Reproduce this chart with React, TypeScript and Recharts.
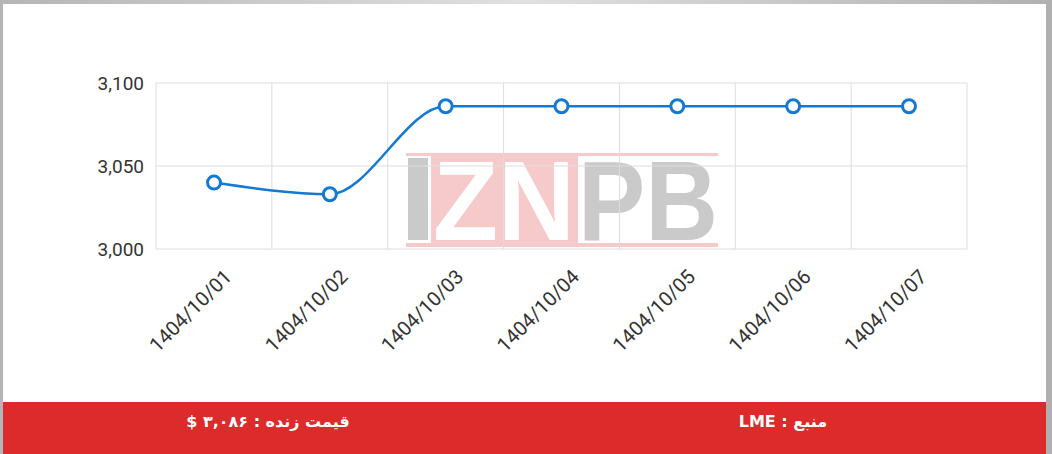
import React from "react";
import {
  LineChart,
  Line,
  XAxis,
  YAxis,
  CartesianGrid,
} from "recharts";

const dates = [
  "1404/10/01",
  "1404/10/02",
  "1404/10/03",
  "1404/10/04",
  "1404/10/05",
  "1404/10/06",
  "1404/10/07",
];
const prices = [3040, 3033, 3086, 3086, 3086, 3086, 3086];
const yTicks = [3000, 3050, 3100];

const livePriceLabel = "قیمت زنده : ۳,۰۸۶ $";
const sourceLabel = "منبع : LME";

const data = dates.map((date, i) => ({ date, price: prices[i] }));

const BLUE = "#1479d3";
const RED = "#dd2a2a";

const XTick = (props: any) => {
  const { x, y, payload } = props;
  return (
    <g transform={`translate(${x + 19},${y + 29})`}>
      <text
        textAnchor="end"
        transform="rotate(-45)"
        fontSize={20}
        fill="#333"
        fontFamily="Roboto, sans-serif"
      >
        {payload.value}
      </text>
    </g>
  );
};

const Watermark = () => (
  <svg
    width={1052}
    height={454}
    style={{ position: "absolute", left: 0, top: 0 }}
  >
    <rect x={406} y={153} width={312} height={3} fill="#f6caca" />
    <rect x={406} y={243} width={312} height={4} fill="#f6caca" />
    <rect x={431} y={156} width={147} height={87} fill="#f6caca" />
    <rect x={408} y={158} width={20} height={82} fill="#cacaca" />
    <text
      x={433}
      y={240}
      fontSize={114}
      fontWeight="bold"
      fontFamily="'Liberation Sans', Arial, sans-serif"
      fill="#ffffff"
      textLength={142}
      lengthAdjust="spacingAndGlyphs"
    >
      ZN
    </text>
    <text
      x={578}
      y={240}
      fontSize={114}
      fontWeight="bold"
      fontFamily="'Liberation Sans', Arial, sans-serif"
      fill="#cacaca"
      textLength={140}
      lengthAdjust="spacingAndGlyphs"
    >
      PB
    </text>
  </svg>
);

export default function App() {
  return (
    <div
      style={{
        position: "fixed",
        left: 0,
        top: 0,
        width: 1052,
        height: 454,
        background: "linear-gradient(90deg, #b5b5b5, #e0e0e0 50%, #b0b0b0)",
        overflow: "hidden",
      }}
    >
      <div
        style={{
          position: "absolute",
          left: 3,
          top: 4,
          width: 1043,
          height: 450,
          background: "#ffffff",
        }}
      />
      <Watermark />
      <div style={{ position: "absolute", left: 3, top: 4 }}>
        <LineChart
          width={1043}
          height={398}
          data={data}
          margin={{ top: 79, right: 79, left: 0, bottom: 0 }}
        >
          <CartesianGrid
            stroke="#dddddd"
            strokeWidth={1}
            verticalCoordinatesGenerator={({ offset }: any) =>
              dates
                .map((_, i) => offset.left + (i * offset.width) / dates.length)
                .concat([offset.left + offset.width])
            }
          />
          <XAxis
            dataKey="date"
            height={153}
            padding={{ left: 58, right: 58 }}
            axisLine={false}
            tickLine={false}
            tickSize={0}
            tickMargin={0}
            interval={0}
            tick={<XTick />}
          />
          <YAxis
            width={153}
            domain={[3000, 3100]}
            ticks={yTicks}
            axisLine={false}
            tickLine={false}
            tickSize={0}
            tickMargin={12}
            tick={{ fontSize: 19, fill: "#333", fontFamily: "Roboto, sans-serif" }}
            tickFormatter={(v: number) => v.toLocaleString("en-US")}
          />
          <Line
            type="monotone"
            dataKey="price"
            stroke={BLUE}
            strokeWidth={2.5}
            dot={{ r: 6.5, stroke: BLUE, strokeWidth: 3, fill: "#ffffff" }}
            isAnimationActive={false}
          />
        </LineChart>
      </div>
      <div
        style={{
          position: "absolute",
          left: 3,
          top: 402,
          width: 1043,
          height: 52,
          background: RED,
          color: "#ffffff",
          fontFamily: "'DejaVu Sans', 'Noto Sans', sans-serif",
          fontSize: 16,
          fontWeight: "bold",
          direction: "rtl",
        }}
      >
        <div
          style={{
            position: "absolute",
            left: 0,
            width: 530,
            top: 0,
            lineHeight: "40px",
            textAlign: "center",
          }}
        >
          {livePriceLabel}
        </div>
        <div
          style={{
            position: "absolute",
            left: 520,
            width: 520,
            top: 0,
            lineHeight: "40px",
            textAlign: "center",
          }}
        >
          {sourceLabel}
        </div>
      </div>
    </div>
  );
}
